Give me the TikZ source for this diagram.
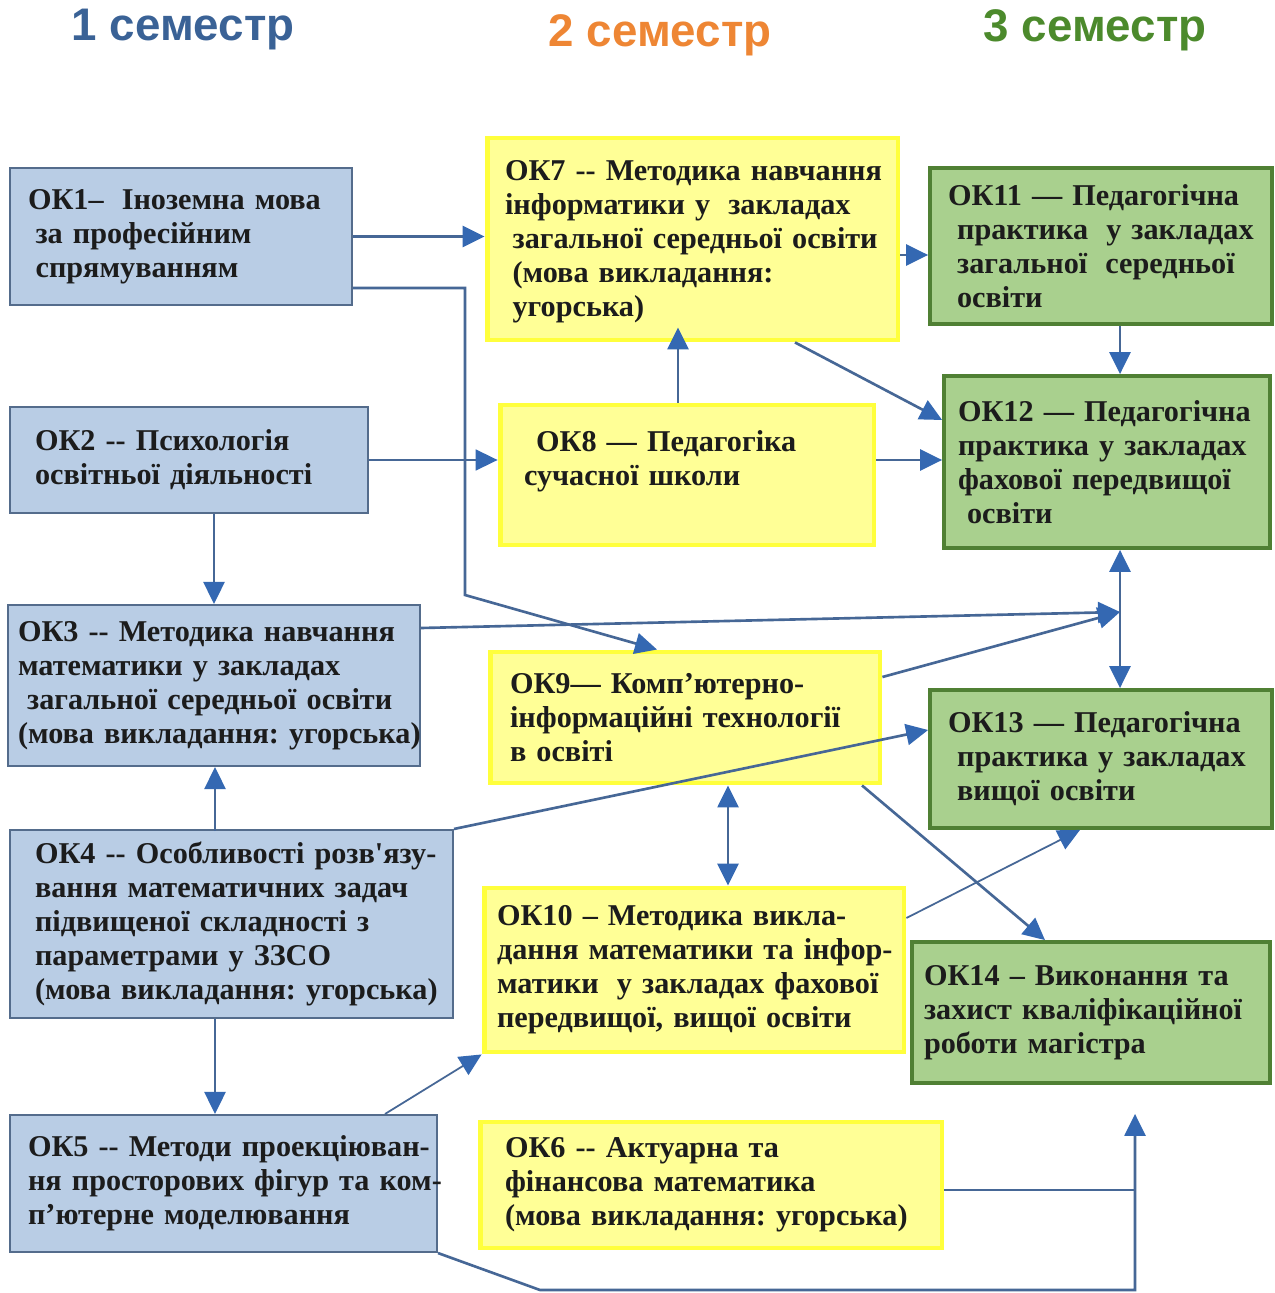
\documentclass[tikz,border=0pt]{standalone}
\usepackage{fontspec}
\setmainfont{Liberation Serif}[Ligatures=TeXOff]
\setsansfont{Liberation Sans}
\usetikzlibrary{arrows.meta}
\definecolor{semone}{RGB}{58,98,150}
\definecolor{semtwo}{RGB}{238,134,52}
\definecolor{semthree}{RGB}{76,138,44}
\definecolor{bluefill}{RGB}{185,205,229}
\definecolor{blueedge}{RGB}{84,108,140}
\definecolor{yelfill}{RGB}{255,255,150}
\definecolor{yeledge}{RGB}{255,255,60}
\definecolor{grnfill}{RGB}{169,208,142}
\definecolor{grnedge}{RGB}{80,128,52}
\definecolor{linecol}{RGB}{70,103,150}
\definecolor{tipcol}{RGB}{52,104,178}
\definecolor{txtcol}{RGB}{28,28,28}
\frenchspacing
\begin{document}
\begin{tikzpicture}[x=0.02cm,y=-0.02cm]
\tikzstyle{every node}+=[inner sep=0pt]
\tikzstyle{sem}=[font=\sffamily\bfseries\fontsize{26}{30}\selectfont]
\tikzstyle{course}=[inner sep=0pt, align=left, text=txtcol, font=\bfseries\fontsize{17.2}{19.4}\selectfont]
\tikzstyle{blu}=[course, fill=bluefill, draw=blueedge, line width=1.2pt]
\tikzstyle{yel}=[course, fill=yelfill, draw=yeledge, line width=2.8pt]
\tikzstyle{grn}=[course, fill=grnfill, draw=grnedge, line width=2.2pt]
\tikzstyle{conn}=[draw=linecol, line width=1.5pt, -{Triangle[length=0.44cm,width=0.42cm,color=tipcol]}]
\tikzstyle{both}=[conn, {Triangle[length=0.44cm,width=0.42cm,color=tipcol]}-{Triangle[length=0.44cm,width=0.42cm,color=tipcol]}]
\tikzstyle{plain}=[draw=linecol, line width=1.5pt]
\useasboundingbox (0,0) rectangle (1274,1293);
\fill[white] (0,0) rectangle (1274,1293);

% semesters
\node[sem, text=semone] (s1) at (183,30) {1 семестр};
\node[sem, text=semtwo] (s2) at (660,35) {2 семестр};
\node[sem, text=semthree] (s3) at (1095,30) {3 семестр};

% first semester
\node[blu, minimum width=6.84cm, minimum height=2.74cm, text width=6.12cm] (ok1) at (181,236.5)
  {ОК1–\hspace{0.6em}Іноземна мова\\\hspace*{0.25em}за професійним\\\hspace*{0.25em}спрямуванням};
\node[blu, minimum width=7.16cm, minimum height=2.12cm, text width=6.16cm] (ok2) at (189,460)
  {ОК2 -- Психологія\\освітньої діяльності};
\node[blu, minimum width=8.24cm, minimum height=3.22cm, text width=7.84cm] (ok3) at (214,685.5)
  {ОК3 -- Методика навчання\\математики у закладах\\\mbox{\hspace*{0.3em}загальної середньої освіти}\\\mbox{(мова викладання: угорська)}};
\node[blu, minimum width=8.86cm, minimum height=3.76cm, text width=7.86cm] (ok4) at (231.5,924)
  {\mbox{ОК4 -- Особливості розв'язу-}\\вання математичних задач\\підвищеної складності з\\параметрами у ЗЗСО\\\mbox{(мова викладання: угорська)}};
\node[blu, minimum width=8.54cm, minimum height=2.74cm, text width=7.82cm] (ok5) at (223.5,1183.5)
  {\mbox{ОК5 -- Методи проекціюван-}\\\mbox{ня просторових фігур та ком-}\\п’ютерне моделювання};

% second semester
\node[yel, minimum width=8.22cm, minimum height=4.04cm, text width=7.50cm] (ok7) at (692.5,239)
  {\mbox{\rule{0pt}{0.5cm}ОК7 -- Методика навчання}\\інформатики у\hspace{0.6em}закладах\\\mbox{\hspace*{0.25em}загальної середньої освіти}\\\hspace*{0.25em}(мова викладання:\\\hspace*{0.25em}угорська)};
\node[yel, minimum width=7.48cm, minimum height=2.80cm, text width=6.52cm] (ok8) at (687,475)
  {\hspace*{0.4em}ОК8 — Педагогіка\\сучасної школи\\\mbox{}};
\node[yel, minimum width=7.80cm, minimum height=2.62cm, text width=7.00cm] (ok9) at (685,717.5)
  {ОК9— Комп’ютерно-\\\mbox{інформаційні технології}\\в освіті};
\node[yel, minimum width=8.40cm, minimum height=3.28cm, text width=7.88cm] (ok10) at (694,970)
  {ОК10 – Методика викла-\\\mbox{дання математики та інфор-}\\\mbox{матики\hspace{0.6em}у закладах фахової}\\передвищої, вищої освіти};
\node[yel, minimum width=9.24cm, minimum height=2.52cm, text width=8.24cm] (ok6) at (711,1185)
  {ОК6 -- Актуарна та\\фінансова математика\\\mbox{(мова викладання: угорська)}};

% third semester
\node[grn, minimum width=6.84cm, minimum height=3.12cm, text width=6.12cm] (ok11) at (1101,246)
  {ОК11 — Педагогічна\\\hspace*{0.3em}практика\hspace{0.6em}у закладах\\\hspace*{0.3em}загальної\hspace{0.6em}середньої\\\hspace*{0.3em}освіти};
\node[grn, minimum width=6.52cm, minimum height=3.44cm, text width=5.96cm] (ok12) at (1107,462)
  {ОК12 — Педагогічна\\практика у закладах\\\mbox{фахової передвищої}\\\hspace*{0.3em}освіти};
\node[grn, minimum width=6.84cm, minimum height=2.76cm, text width=6.12cm] (ok13) at (1101,759)
  {ОК13 — Педагогічна\\\hspace*{0.3em}практика у закладах\\\hspace*{0.3em}вищої освіти};
\node[grn, minimum width=7.16cm, minimum height=2.82cm, text width=6.68cm] (ok14) at (1091,1012.5)
  {ОК14 – Виконання та\\\mbox{захист кваліфікаційної}\\роботи магістра};

% links
\coordinate (jn) at (1120,612);
\draw[conn] (ok1.east) -- (ok1.east -| ok7.west);
\draw[conn] (ok1.east |- 0,288) -| (465,595) -- (ok9.north -| 657,0);
\draw[conn, line width=1pt] (ok2.east) -- (ok2.east -| ok8.west);
\draw[conn] (ok3.north |- ok2.south) -- (ok3.north);
\draw[conn] (ok3.east |- 0,628) -- (jn);
\draw[conn] (ok9.east |- 0,677) -- (jn);
\draw[both] (ok12.south -| 1120,0) -- (ok13.north -| 1120,0);
\draw[conn] (ok7.east |- 0,255) -- (ok11.west |- 0,255);
\draw[conn] (ok11.south -| 1120,0) -- (ok12.north -| 1120,0);
\draw[conn] (ok7.south -| 795,0) -- (ok12.west |- 0,420);
\draw[conn] (ok8.east |- 0,460) -- (ok12.west |- 0,460);
\draw[conn, shorten >=-0.3cm] (ok8.north -| 678,0) -- (ok7.south -| 678,0);
\draw[conn] (ok4.north east) -- (ok13.west |- 0,730);
\draw[both] (ok9.south -| 728,0) -- (ok10.north -| 728,0);
\draw[conn] (ok9.south -| 862,0) -- (ok14.north -| 1045,0);
\draw[conn, line width=1pt] (ok10.east |- 0,918) -- (ok13.south -| 1080,0);
\draw[conn] (ok3.south -| 215,0) ++(0,64) -- (ok3.south -| 215,0);
\draw[conn] (ok4.south -| 215,0) -- (ok5.north -| 215,0);
\draw[conn, line width=1pt] (ok5.north -| 385,0) -- (ok10.south west);
\draw[conn, shorten >=0.58cm] (ok5.south east) -- (540,1290) -| (ok14.south -| 1135,0);
\draw[plain] (ok6.east |- 0,1190) -- (1135,1190);
\end{tikzpicture}
\end{document}
